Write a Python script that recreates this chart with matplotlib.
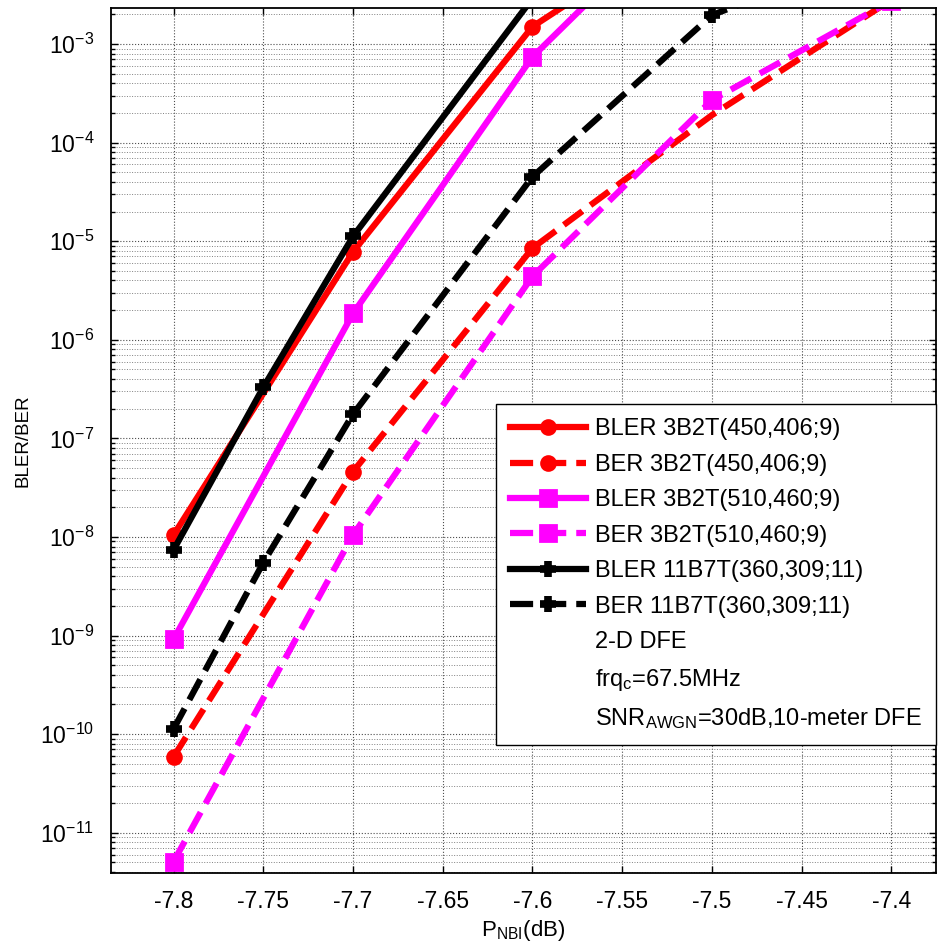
import matplotlib
matplotlib.use('Agg')
import matplotlib.pyplot as plt
from matplotlib.lines import Line2D
from matplotlib.ticker import FixedLocator, LogFormatterSciNotation, NullFormatter
import numpy as np

plt.rcParams['font.family'] = ['Liberation Sans', 'DejaVu Sans']
plt.rcParams['mathtext.fontset'] = 'custom'
plt.rcParams['mathtext.rm'] = 'Liberation Sans'
plt.rcParams['mathtext.it'] = 'Liberation Sans:italic'
plt.rcParams['mathtext.default'] = 'regular'

# data
x_bler_450 = [-7.8, -7.7, -7.6, -7.55]
bler_450 = [1.05e-8, 7.8e-6, 1.5e-3, 5.9e-3]
x_ber_450 = [-7.8, -7.7, -7.6, -7.5, -7.4]
ber_450 = [5.9e-11, 4.6e-8, 8.5e-6, 1.9e-4, 2.8e-3]

x_bler_510 = [-7.8, -7.7, -7.6, -7.55]
bler_510 = [9.2e-10, 1.85e-6, 7.4e-4, 5.8e-3]
x_ber_510 = [-7.8, -7.7, -7.6, -7.5, -7.4]
ber_510 = [5.1e-12, 1.05e-8, 4.4e-6, 2.7e-4, 2.75e-3]

x_bler_11 = [-7.8, -7.75, -7.7, -7.6]
bler_11 = [7.4e-9, 3.3e-7, 1.12e-5, 2.9e-3]
x_ber_11 = [-7.8, -7.75, -7.7, -7.6, -7.5, -7.4]
ber_11 = [1.13e-10, 5.5e-9, 1.76e-7, 4.5e-5, 1.96e-3, 1.0e-2]

labels = ['BLER 3B2T(450,406;9)', 'BER 3B2T(450,406;9)',
          'BLER 3B2T(510,460;9)', 'BER 3B2T(510,460;9)',
          'BLER 11B7T(360,309;11)', 'BER 11B7T(360,309;11)']
notes = ['2-D DFE', 'frq$_{c}$=67.5MHz', 'SNR$_{AWGN}$=30dB,10-meter DFE']

xticks = [-7.8, -7.75, -7.7, -7.65, -7.6, -7.55, -7.5, -7.45, -7.4]
ydecades = [-11, -10, -9, -8, -7, -6, -5, -4, -3]

fig = plt.figure(figsize=(9.39, 9.49), dpi=100)
ax = fig.add_axes([0.118, 0.080, 0.879, 0.9116])

lw = 4.5
circ = dict(marker='o', ms=10, mew=2)
sq = dict(marker='s', ms=12, mew=2)
pl = dict(marker='+', ms=12, mew=5.5)

ax.semilogy(x_bler_450, bler_450, '-', color='red', lw=lw, **circ)
ax.semilogy(x_ber_450, ber_450, '--', color='red', lw=lw, markevery=[0, 1, 2], **circ)
ax.semilogy(x_bler_510, bler_510, '-', color='magenta', lw=lw, **sq)
ax.semilogy(x_ber_510, ber_510, '--', color='magenta', lw=lw, **sq)
ax.semilogy(x_bler_11, bler_11, '-', color='black', lw=lw, **pl)
ax.semilogy(x_ber_11, ber_11, '--', color='black', lw=lw, **pl)

ax.set_xlim(-7.835, -7.375)
ax.set_ylim(3.9e-12, 2.32e-3)
ax.set_xticks(xticks)
ax.set_xticklabels(['%g' % v for v in xticks])
ax.yaxis.set_major_locator(FixedLocator([10.0 ** d for d in ydecades]))
ax.yaxis.set_major_formatter(LogFormatterSciNotation())
minors = [m * 10.0 ** d for d in range(-12, -2) for m in range(2, 10)]
minors = [v for v in minors if 3.9e-12 <= v <= 2.32e-3]
ax.yaxis.set_minor_locator(FixedLocator(minors))
ax.yaxis.set_minor_formatter(NullFormatter())

ax.grid(which='major', ls=':', color='0.3', lw=0.8)
ax.grid(which='minor', axis='y', ls=':', color='0.5', lw=0.7)
ax.set_axisbelow(True)

ax.tick_params(which='both', direction='in', top=True, right=True, labelsize=16.5)
ax.tick_params(which='major', length=5, width=1, pad=12)
ax.tick_params(which='minor', length=3, width=1)
for s in ax.spines.values():
    s.set_linewidth(1.3)

ax.set_xlabel('P$_{NBI}$(dB)', fontsize=16, labelpad=4)
ax.set_ylabel('BLER/BER', fontsize=13.5, labelpad=6)

handles = ax.get_lines()[:6]
blank = [Line2D([], [], linestyle='none', marker='none') for _ in notes]
leg = ax.legend(list(handles) + blank, labels + notes, loc='upper right',
                bbox_to_anchor=(1.0, 0.542), fontsize=17, frameon=True,
                fancybox=False, framealpha=1, edgecolor='black',
                handlelength=3.2, handletextpad=0.4, labelspacing=0.57,
                borderpad=0.6, borderaxespad=0)
leg.get_frame().set_linewidth(1.0)

fig.savefig('out.png', dpi=100)
